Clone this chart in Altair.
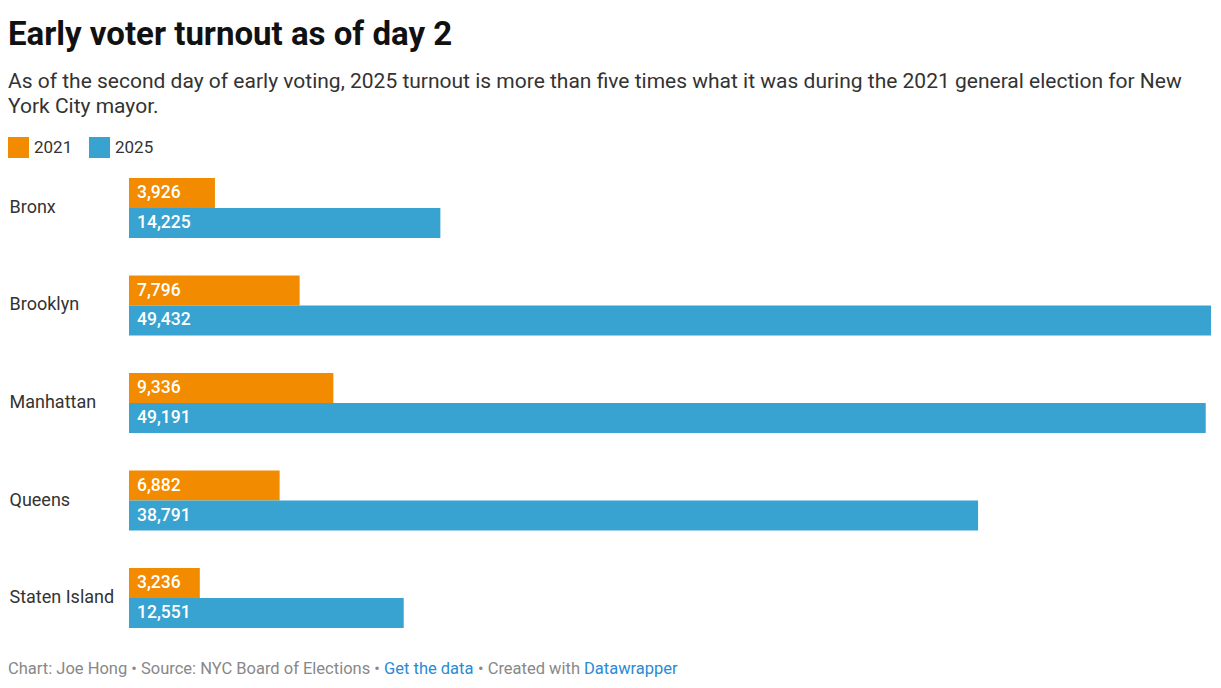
import altair as alt
import pandas as pd

boroughs = ["Bronx", "Brooklyn", "Manhattan", "Queens", "Staten Island"]
turnout_2021 = [3926, 7796, 9336, 6882, 3236]
turnout_2025 = [14225, 49432, 49191, 38791, 12551]
years = ["2021", "2025"]
colors = ["#F38B00", "#38A3D1"]

title_text = "Early voter turnout as of day 2"
subtitle_lines = [
    "As of the second day of early voting, 2025 turnout is more than five times what it was during the 2021 general election for New",
    "York City mayor.",
]
footer_parts = [
    ("Chart: Joe Hong • Source: NYC Board of Elections •", "#888888"),
    ("Get the data", "#2a8ad4"),
    ("• Created with", "#888888"),
    ("Datawrapper", "#2a8ad4"),
]
footer_x = [-121, 255, 349, 455]

rows = []
for b, v1, v2 in zip(boroughs, turnout_2021, turnout_2025):
    rows.append({"borough": b, "year": years[0], "value": v1})
    rows.append({"borough": b, "year": years[1], "value": v2})
df = pd.DataFrame(rows)

FONT = "Roboto"

y_enc = alt.Y("borough:N", sort=boroughs,
              scale=alt.Scale(paddingInner=0.385, paddingOuter=0),
              axis=alt.Axis(title=None, domain=False, ticks=False, grid=False,
                            labelAlign="left", labelPadding=120, labelFontSize=18,
                            labelColor="#333333", labelFont=FONT, labelBaseline="middle"))
yoff = alt.YOffset("year:N", sort=years, scale=alt.Scale(paddingInner=0, paddingOuter=0))
x_scale = alt.Scale(domain=[0, max(turnout_2025)], nice=False, zero=True)

bars = alt.Chart(df).mark_bar(cornerRadius=0).encode(
    x=alt.X("value:Q", scale=x_scale, axis=None),
    y=y_enc,
    yOffset=yoff,
    color=alt.Color("year:N", sort=years,
                    scale=alt.Scale(domain=years, range=colors),
                    legend=alt.Legend(orient="none", legendX=-121, legendY=-41,
                                      direction="horizontal", title=None,
                                      symbolType="square", symbolSize=441,
                                      symbolStrokeWidth=0, symbolOpacity=1,
                                      labelFontSize=17, labelFont=FONT,
                                      labelColor="#333333", labelOffset=5,
                                      columnPadding=16, padding=0)),
)

labels = alt.Chart(df).mark_text(align="left", baseline="middle", dx=8,
                                 fontSize=17.5, fontWeight=500, font=FONT,
                                 color="white").encode(
    x=alt.datum(0, scale=x_scale),
    y=alt.Y("borough:N", sort=boroughs),
    yOffset=alt.YOffset("year:N", sort=years),
    text=alt.Text("value:Q", format=","),
)

title = alt.Chart(pd.DataFrame({"t": [title_text]})).mark_text(
    align="left", baseline="alphabetic", fontSize=33, fontWeight="bold",
    font=FONT, color="#111111").encode(
    x=alt.value(-121), y=alt.value(-133), text="t:N")

subtitle1 = alt.Chart(pd.DataFrame({"t": [subtitle_lines[0]]})).mark_text(
    align="left", baseline="alphabetic", fontSize=21, font=FONT,
    color="#333333").encode(x=alt.value(-121), y=alt.value(-90.5), text="t:N")
subtitle2 = alt.Chart(pd.DataFrame({"t": [subtitle_lines[1]]})).mark_text(
    align="left", baseline="alphabetic", fontSize=21, font=FONT,
    color="#333333").encode(x=alt.value(-121), y=alt.value(-65), text="t:N")

footers = []
for (txt, col), fx in zip(footer_parts, footer_x):
    footers.append(alt.Chart(pd.DataFrame({"t": [txt]})).mark_text(
        align="left", baseline="alphabetic", fontSize=16.5, font=FONT,
        color=col).encode(x=alt.value(fx), y=alt.value(496), text="t:N"))

chart = alt.layer(bars, labels, title, subtitle1, subtitle2, *footers).properties(
    width=1082, height=450,
    autosize=alt.AutoSizeParams(type="none"),
    padding={"left": 121, "top": 170, "right": 2, "bottom": 52},
).configure(font=FONT, view=alt.ViewConfig(stroke=None))

chart.save("out.html", embed_options={"renderer": "svg", "actions": False})
